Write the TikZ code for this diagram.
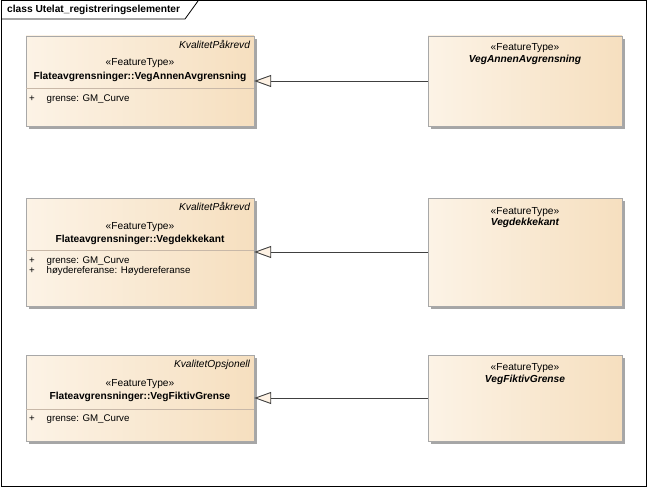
\documentclass[tikz,border=0pt]{standalone}
\usepackage{fontspec}
\setmainfont{Liberation Sans}
\usepackage{tikz}
\usetikzlibrary{arrows.meta,shadows}
\definecolor{boxlight}{HTML}{FCF3E6}
\definecolor{boxdark}{HTML}{F6DFBF}
\definecolor{boxline}{HTML}{A8A8A8}
\definecolor{sepcol}{HTML}{C8B8A8}
\definecolor{trifill}{HTML}{FDF1E3}
\tikzstyle{umlclass} = [rectangle, draw=boxline, left color=boxlight, right color=boxdark, inner sep=0pt,
  drop shadow={shadow xshift=3pt, shadow yshift=-3pt, fill=black!35, opacity=1}]
\tikzstyle{leftclass} = [umlclass, minimum width=228pt]
\tikzstyle{rightclass} = [umlclass, minimum width=194pt]
\tikzstyle{stereo} = [inner sep=0pt, font=\fontsize{10.2}{12}\selectfont]
\tikzstyle{cname} = [inner sep=0pt, font=\fontsize{10.2}{12}\selectfont\bfseries]
\tikzstyle{tagged} = [inner sep=0pt, anchor=east, font=\fontsize{10.2}{12}\selectfont\itshape]
\tikzstyle{attr} = [inner sep=0pt, anchor=west, font=\fontsize{9.7}{12}\selectfont]
\tikzstyle{sepline} = [draw=sepcol, line width=0.8pt]
\tikzstyle{gen} = [draw=black!75, line width=0.9pt, -{Triangle[length=17pt,width=12pt,fill=trifill]}]

\begin{document}
\begin{tikzpicture}[x=1pt,y=-1pt]
\useasboundingbox (0,0) rectangle (648,487);
% frame
\draw[line width=1pt] (1,1) rectangle (646,486);
\draw[line width=0.8pt] (1,19) -- (185,19) -- (198,1);
\node[cname, anchor=west] (title) at (7,10) {class Utelat\_registreringselementer};

% left classes
\node[leftclass, minimum height=90pt] (l1) at (140,81) {};
\node[leftclass, minimum height=108pt] (l2) at (140,252) {};
\node[leftclass, minimum height=86pt] (l3) at (140,398) {};
% right classes
\node[rightclass, minimum height=90pt] (r1) at (525,81) {};
\node[rightclass, minimum height=108pt] (r2) at (525,252) {};
\node[rightclass, minimum height=86pt] (r3) at (525,398) {};

% class 1
\node[tagged] (t1) at ([xshift=-4pt,yshift=-9pt]l1.north east) {KvalitetPåkrevd};
\node[stereo] (s1) at ([yshift=-27pt]l1.north) {«FeatureType»};
\node[cname] (n1) at ([yshift=-41pt]l1.north) {Flateavgrensninger::VegAnnenAvgrensning};
\draw[sepline] ([yshift=-53pt]l1.north west) -- ([yshift=-53pt]l1.north east);
\node[attr] (a1) at ([xshift=3pt,yshift=-63pt]l1.north west) {+\hspace{12pt}grense: GM\_Curve};

% class 2
\node[tagged] (t2) at ([xshift=-4pt,yshift=-9pt]l2.north east) {KvalitetPåkrevd};
\node[stereo] (s2) at ([yshift=-29pt]l2.north) {«FeatureType»};
\node[cname] (n2) at ([yshift=-42pt]l2.north) {Flateavgrensninger::Vegdekkekant};
\draw[sepline] ([yshift=-53pt]l2.north west) -- ([yshift=-53pt]l2.north east);
\node[attr] (a2) at ([xshift=3pt,yshift=-63pt]l2.north west) {+\hspace{12pt}grense: GM\_Curve};
\node[attr] (a3) at ([xshift=3pt,yshift=-73pt]l2.north west) {+\hspace{12pt}høydereferanse: Høydereferanse};

% class 3
\node[tagged] (t3) at ([xshift=-4pt,yshift=-10pt]l3.north east) {KvalitetOpsjonell};
\node[stereo] (s3) at ([yshift=-29pt]l3.north) {«FeatureType»};
\node[cname] (n3) at ([yshift=-42pt]l3.north) {Flateavgrensninger::VegFiktivGrense};
\draw[sepline] ([yshift=-55pt]l3.north west) -- ([yshift=-55pt]l3.north east);
\node[attr] (a4) at ([xshift=3pt,yshift=-64pt]l3.north west) {+\hspace{12pt}grense: GM\_Curve};

% right class texts
\node[stereo] (rs1) at ([yshift=-12pt]r1.north) {«FeatureType»};
\node[cname, font=\fontsize{10.2}{12}\selectfont\bfseries\itshape] (rn1) at ([yshift=-24pt]r1.north) {VegAnnenAvgrensning};
\node[stereo] (rs2) at ([yshift=-14pt]r2.north) {«FeatureType»};
\node[cname, font=\fontsize{10.2}{12}\selectfont\bfseries\itshape] (rn2) at ([yshift=-25pt]r2.north) {Vegdekkekant};
\node[stereo] (rs3) at ([yshift=-13pt]r3.north) {«FeatureType»};
\node[cname, font=\fontsize{10.2}{12}\selectfont\bfseries\itshape] (rn3) at ([yshift=-25pt]r3.north) {VegFiktivGrense};

% generalisations
\draw[gen] (r1.west) -- (l1.east);
\draw[gen] (r2.west) -- (l2.east);
\draw[gen] (r3.west) -- (l3.east);
\end{tikzpicture}
\end{document}
